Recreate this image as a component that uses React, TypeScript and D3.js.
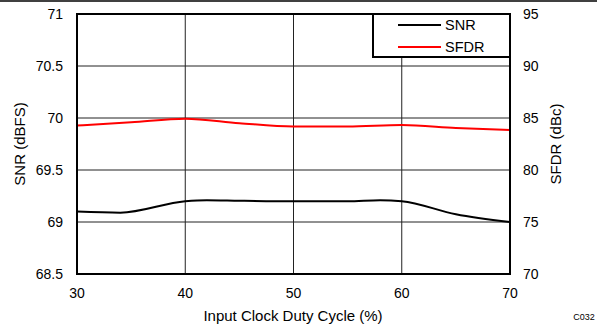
import React from "react";
import * as d3 from "d3";

const duty = [30, 34, 40, 42, 45, 50, 55, 58, 60, 65, 70];
const snr = [69.1, 69.09, 69.2, 69.21, 69.205, 69.2, 69.2, 69.21, 69.2, 69.075, 69.0];
const sfdrX = [30, 35, 40, 45, 50, 55, 60, 65, 70];
const sfdr = [84.28, 84.58, 84.93, 84.5, 84.18, 84.18, 84.32, 84.05, 83.85];
const xTicks = [30, 40, 50, 60, 70];
const leftTicks = [68.5, 69, 69.5, 70, 70.5, 71];
const rightTicks = [70, 75, 80, 85, 90, 95];
const legendItems = [
  { name: "SNR", color: "#000000" },
  { name: "SFDR", color: "#ff0000" },
];

export default function App() {
  const W = 597, H = 329;
  const L = 77, R = 510, T = 14, B = 274;
  const x = d3.scaleLinear().domain([30, 70]).range([L, R]);
  const yL = d3.scaleLinear().domain([68.5, 71]).range([B, T]);
  const yR = d3.scaleLinear().domain([70, 95]).range([B, T]);
  const font = "'Liberation Sans', Arial, sans-serif";

  const snrLine = d3
    .line<number>()
    .x((_, i) => x(duty[i]))
    .y((d) => yL(d))
    .curve(d3.curveMonotoneX)(snr);
  const sfdrLine = d3
    .line<number>()
    .x((_, i) => x(sfdrX[i]))
    .y((d) => yR(d))
    .curve(d3.curveMonotoneX)(sfdr);

  return (
    <svg
      width={W}
      height={H}
      style={{ position: "absolute", left: 0, top: 0, background: "#fff" }}
      fontFamily={font}
    >
      <line x1={0} x2={W} y1={1} y2={1} stroke="#000" strokeWidth={1.5} />
      {xTicks.slice(1, -1).map((t) => (
        <line key={"gx" + t} x1={x(t)} x2={x(t)} y1={T} y2={B} stroke="#222" strokeWidth={1} />
      ))}
      {leftTicks.slice(1, -1).map((t) => (
        <line key={"gy" + t} x1={L} x2={R} y1={yL(t)} y2={yL(t)} stroke="#222" strokeWidth={1} />
      ))}
      <path d={snrLine || ""} fill="none" stroke="#000" strokeWidth={2} />
      <path d={sfdrLine || ""} fill="none" stroke="#ff0000" strokeWidth={2} />
      <rect x={L} y={T} width={R - L} height={B - T} fill="none" stroke="#000" strokeWidth={2} />
      {/* legend */}
      <rect x={373} y={T} width={R - 373} height={43} fill="#fff" stroke="#000" strokeWidth={2} />
      {legendItems.map((it, i) => (
        <g key={it.name}>
          <line x1={398} x2={441} y1={25 + i * 22} y2={25 + i * 22} stroke={it.color} strokeWidth={2} />
          <text x={445} y={25 + i * 22} dy="0.35em" fontSize={14.5} fill="#000">
            {it.name}
          </text>
        </g>
      ))}
      {xTicks.map((t) => (
        <text key={"xt" + t} x={x(t)} y={298} textAnchor="middle" fontSize={14} fill="#000">
          {t}
        </text>
      ))}
      {leftTicks.map((t) => (
        <text key={"lt" + t} x={63} y={yL(t)} dy="0.35em" textAnchor="end" fontSize={14} fill="#000">
          {t}
        </text>
      ))}
      {rightTicks.map((t) => (
        <text key={"rt" + t} x={523} y={yR(t)} dy="0.35em" textAnchor="start" fontSize={14} fill="#000">
          {t}
        </text>
      ))}
      <text x={293} y={321} textAnchor="middle" fontSize={15} fill="#000">
        Input Clock Duty Cycle (%)
      </text>
      <text
        transform={`translate(20,${(T + B) / 2}) rotate(-90)`}
        textAnchor="middle"
        dy="0.35em"
        fontSize={15}
        fill="#000"
      >
        SNR (dBFS)
      </text>
      <text
        transform={`translate(556,${(T + B) / 2}) rotate(-90)`}
        textAnchor="middle"
        dy="0.35em"
        fontSize={15}
        fill="#000"
      >
        SFDR (dBc)
      </text>
      <text x={584} y={320} textAnchor="middle" fontSize={9} fill="#000">
        C032
      </text>
    </svg>
  );
}
